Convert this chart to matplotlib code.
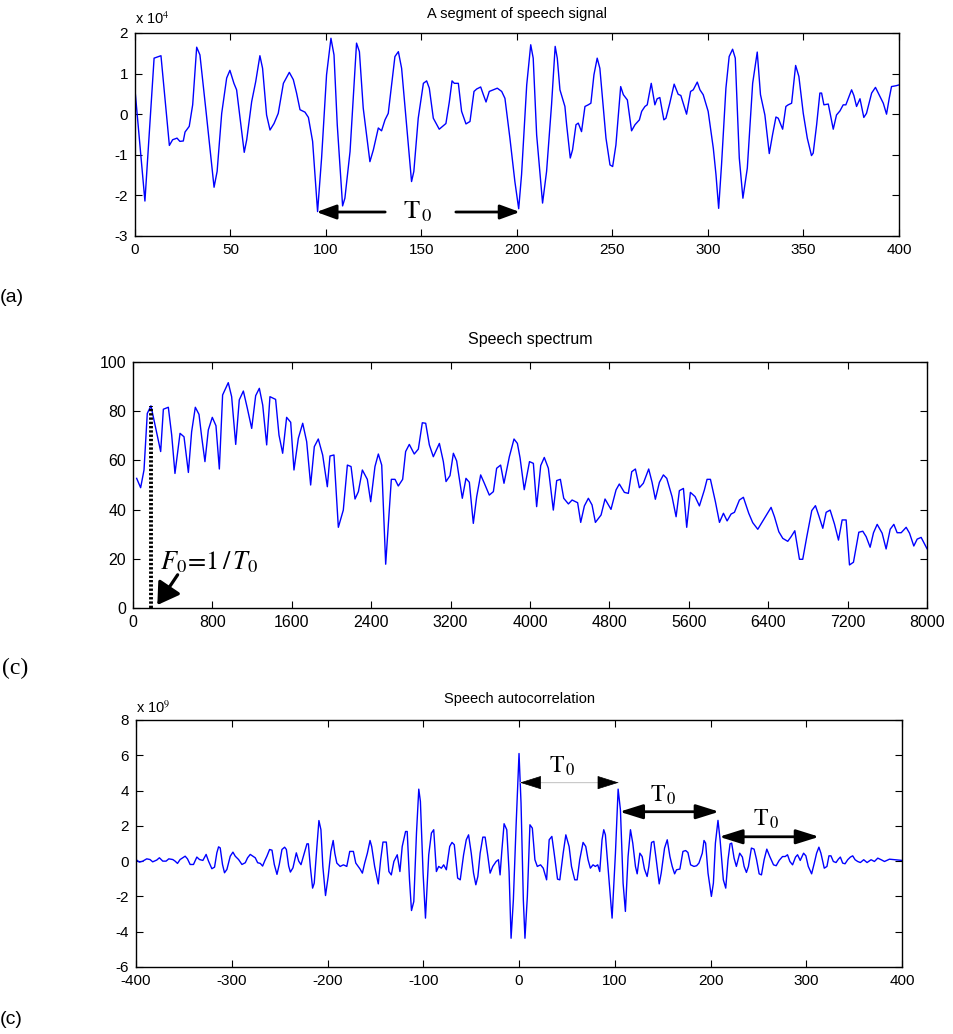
import matplotlib
matplotlib.use("Agg")
import matplotlib.pyplot as plt

# -----------------------------
# Data
# -----------------------------
# (a) speech signal, amplitude in units of 1e4
sig_x = [0, 5.2, 10.0, 13.6, 18.0, 19.7, 22.0, 23.5, 25.3, 26.2, 28.4, 30.2, 32.3, 34.0,
         37.2, 41.4, 43.0, 45.4, 48.0, 49.7, 51.8, 53.2, 57.2, 58.5, 61.1, 63.2, 65.4, 66.8,
         68.9, 70.7, 72.8, 75.0, 77.7, 80.8, 82.9, 84.6, 86.4, 89.0, 90.8, 93.0, 95.6, 97.7,
         100.3, 102.6, 104.2, 105.9, 108.7, 109.9, 112.6, 116.0, 117.5, 119.5, 123.0, 124.8,
         127.4, 129.1, 130.9, 132.6, 136.1, 137.9, 139.6, 142.2, 144.8, 146.0, 148.3, 151.0,
         152.7, 154.1, 156.2, 159.3, 162.8, 164.6, 166.0, 167.2, 169.3, 171.0, 173.3, 175.4,
         177.5, 178.9, 181.0, 182.4, 183.8, 185.5, 187.6, 189.7, 192.0, 193.7, 196.3, 198.9,
         200.9, 202.4, 205.1, 207.2, 208.5, 210.3, 213.4, 215.5, 218.1, 220.0, 221.1, 222.5,
         225.1, 226.0, 227.9, 229.1, 230.9, 232.1, 233.8, 235.6, 237.3, 238.7, 240.3, 242.0,
         243.4, 245.2, 246.6, 248.7, 250.1, 251.8, 254.3, 255.7, 257.8, 260.0, 261.8, 264.1,
         265.3, 267.0, 268.2, 270.3, 272.2, 273.4, 274.8, 276.9, 278.0, 280.0, 282.3, 284.4,
         285.8, 288.8, 290.9, 292.3, 294.4, 295.8, 297.5, 300.1, 302.8, 304.2, 305.6, 307.1,
         309.4, 311.1, 312.9, 314.3, 316.4, 318.3, 320.6, 323.4, 325.8, 327.5, 329.8, 332.1,
         333.8, 335.6, 336.8, 339.1, 340.8, 342.0, 343.8, 345.9, 347.6, 349.9, 352.0, 354.2,
         355.1, 356.9, 358.6, 359.5, 360.7, 363.0, 365.6, 367.3, 369.1, 370.8, 372.2, 375.2,
         376.4, 377.8, 379.6, 381.6, 383.0, 385.7, 387.7, 390.0, 391.8, 393.5, 394.9, 396.1,
         398.4, 400.0]
sig_y = [0.60, -2.14, 1.38, 1.44, -0.77, -0.63, -0.59, -0.67, -0.66, -0.44, -0.30, 0.23, 1.65, 1.46,
         0.07, -1.80, -1.41, 0.02, 0.89, 1.08, 0.76, 0.60, -0.94, -0.63, 0.31, 0.80, 1.44, 1.13,
         -0.02, -0.39, -0.23, 0.02, 0.76, 1.03, 0.85, 0.52, 0.11, 0.05, -0.08, -0.67, -2.40, -1.08,
         0.97, 1.87, 1.46, -0.26, -2.26, -2.07, -0.92, 1.75, 1.54, 0.15, -1.17, -0.88,
         -0.34, -0.41, -0.14, 0.02, 1.42, 1.54, 1.13, -0.26, -1.66, -1.41, -0.10, 0.76,
         0.82, 0.64, -0.10, -0.37, -0.23, 0.31, 0.82, 0.76, 0.76, 0.07, -0.24, -0.18,
         0.56, 0.62, 0.67, 0.48, 0.30, 0.56, 0.60, 0.64, 0.56, 0.39, -0.59, -1.66,
         -2.33, -1.49, 0.72, 1.71, 1.38, -0.51, -2.19, -1.41, 0.23, 1.67, 1.38, 0.60,
         0.19, -0.26, -1.08, -0.88, -0.26, -0.22, -0.43, 0.19, 0.23, 0.27, 0.97, 1.38,
         1.13, 0.15, -0.59, -1.25, -1.29, -0.76, 0.68, 0.48, 0.35, -0.41, -0.26, -0.14,
         0.07, 0.19, 0.23, 0.76, 0.23, 0.38, 0.41, -0.14, -0.10, 0.27, 0.74, 0.49,
         0.46, 0.00, 0.56, 0.60, 0.79, 0.60, 0.48, 0.07, -0.84, -1.49, -2.32, -1.25,
         0.64, 1.42, 1.60, 1.38, -1.08, -2.07, -1.33, 0.76, 1.53, 0.48, -0.02, -0.97,
         -0.51, -0.07, -0.10, -0.37, 0.19, 0.23, 0.27, 1.20, 0.93, 0.02, -0.59, -1.02,
         -0.96, -0.26, 0.52, 0.52, 0.23, 0.25, -0.37, -0.02, 0.08, 0.23, 0.23, 0.60,
         0.46, 0.19, 0.38, -0.08, 0.02, 0.52, 0.66, 0.44, 0.27, 0.00, 0.39, 0.68,
         0.70, 0.72]

# (c) speech spectrum, frequency in Hz, magnitude in dB
spec_f = [37, 77, 111, 144, 181, 215, 279, 306, 356, 390, 423, 474, 514, 558, 591, 628, 665,
          692, 725, 759, 799, 836, 870, 903, 960, 994, 1035, 1071, 1112, 1152, 1196, 1236,
          1273, 1307, 1347, 1380, 1437, 1471, 1508, 1548, 1589, 1622, 1666, 1710, 1750, 1790,
          1827, 1867, 1911, 1958, 1985, 2025, 2069, 2119, 2160, 2197, 2237, 2271, 2311, 2361,
          2395, 2438, 2472, 2506, 2546, 2603, 2640, 2673, 2717, 2747, 2784, 2834, 2875, 2915,
          2949, 2986, 3026, 3087, 3127, 3154, 3194, 3228, 3261, 3318, 3355, 3389, 3429, 3463,
          3503, 3540, 3590, 3631, 3664, 3704, 3738, 3792, 3839, 3873, 3900, 3942, 3995, 4034,
          4067, 4108, 4144, 4185, 4235, 4269, 4306, 4340, 4387, 4424, 4480, 4511, 4548, 4588,
          4625, 4659, 4716, 4756, 4816, 4867, 4900, 4951, 4991, 5025, 5062, 5102, 5142, 5196,
          5230, 5263, 5304, 5344, 5378, 5431, 5472, 5505, 5546, 5579, 5616, 5663, 5707, 5757,
          5784, 5818, 5868, 5909, 5949, 5986, 6026, 6060, 6110, 6150, 6204, 6244, 6295, 6355,
          6429, 6463, 6507, 6547, 6597, 6631, 6668, 6715, 6748, 6789, 6839, 6876, 6910, 6950,
          6984, 7024, 7068, 7108, 7145, 7185, 7219, 7259, 7313, 7353, 7387, 7427, 7461, 7498,
          7548, 7588, 7629, 7666, 7699, 7740, 7790, 7824, 7867, 7901, 7941, 8000]
spec_db = [52.7, 48.9, 56.1, 79.1, 82.2, 75.7, 63.6, 80.8, 81.6, 70.3, 54.7, 71.0, 69.6, 55.1,
           71.7, 81.6, 78.7, 69.6, 59.5, 72.4, 77.5, 74.1, 56.5, 86.6, 91.6, 85.9, 66.5, 84.6,
           88.2, 81.2, 73.0, 86.3, 89.3, 82.5, 66.3, 85.9, 84.8, 70.3, 62.9, 77.5, 75.5, 56.1,
           69.0, 75.1, 67.6, 50.0, 65.6, 68.7, 62.2, 49.3, 61.8, 62.2, 32.8, 39.8, 58.1, 57.5,
           44.3, 47.3, 56.1, 52.3, 43.2, 57.5, 62.6, 58.1, 17.8, 52.3, 52.3, 49.6, 52.3, 63.6,
           66.5, 62.6, 64.6, 75.3, 75.1, 66.3, 61.5, 66.9, 59.5, 51.4, 53.8, 62.9, 59.8, 44.6,
           52.7, 51.1, 34.4, 45.3, 54.1, 50.7, 45.9, 47.3, 56.8, 58.1, 50.7, 61.5, 68.7, 66.9,
           61.0, 48.1, 59.5, 58.8, 41.2, 57.9, 61.2, 56.8, 39.8, 51.8, 52.3, 44.6, 42.3, 43.9,
           42.8, 34.8, 41.5, 44.6, 41.9, 34.8, 37.8, 44.3, 40.1, 48.0, 50.4, 47.0, 46.6, 55.4,
           56.5, 48.9, 50.7, 56.5, 51.1, 44.2, 51.1, 54.1, 52.7, 45.3, 37.1, 47.7, 48.6, 32.8,
           47.0, 45.3, 41.5, 48.0, 52.3, 52.3, 43.2, 34.8, 38.5, 35.4, 38.2, 38.9, 43.9, 45.0,
           38.5, 34.7, 32.0, 36.0, 40.9, 37.1, 31.0, 28.3, 27.1, 29.0, 31.4, 19.8, 19.8, 29.0,
           39.6, 41.6, 37.5, 32.4, 38.9, 39.8, 34.1, 27.6, 35.8, 35.8, 17.5, 18.6, 30.8, 31.2,
           29.0, 24.7, 30.6, 34.0, 30.4, 24.0, 32.0, 34.0, 30.6, 30.6, 32.8, 30.4, 25.2, 28.0,
           28.7, 24.1]

# (c) autocorrelation, lag in samples, value in units of 1e9
ac_lag = [-400, -396.5, -393, -388.8, -385.4, -382.6, -378.4, -375.6, -372.1, -368.6, -365.8,
          -361.6, -359.2, -356.7, -354, -348.7, -346.3, -343.5, -340, -336.5, -333.7, -330.2,
          -326.8, -324.3, -320.8, -318, -315.6, -313.8, -312.1, -309.7, -307.6, -305.1, -301.6,
          -298.8, -296.4, -292.9, -289.4, -285.9, -283.5, -280.7, -277.9, -275.5, -273, -270.2,
          -267.8, -265.7, -263.3, -260.5, -258, -255.6, -252.8, -250.4, -247.6, -244.8, -243,
          -240.6, -238.8, -236.1, -232.6, -230.1, -227.7, -224.3, -221.5, -220, -218, -215.6,
          -213.9, -211.1, -209, -206.9, -204.9, -202.1, -199.3, -196.5, -194.1, -192.4, -190.3,
          -186.8, -183.4, -179.9, -176.8, -173, -170.5, -166, -163.6, -161.2, -158.4, -155.6,
          -153.9, -150.8, -147, -144.5, -142.1, -138.6, -135.9, -133.4, -130.7, -127.2, -124.4,
          -122, -118.5, -116.8, -114.4, -112.3, -109.9, -107.1, -104.7, -103, -100.2, -97.7,
          -94.3, -91.5, -89.1, -86.3, -83.9, -81.1, -78.7, -75.9, -72.4, -70, -67.6, -64.1,
          -61.4, -57.9, -55.1, -52.7, -49.9, -47.5, -45.1, -43, -40.6, -37.8, -35.4, -32.6,
          -30.2, -27.4, -23.9, -21.5, -19.8, -18, -15.6, -12.8, -10.4, -8.3, -5.9, -3.1, 0,
          2.1, 4.5, 6.2, 8.7, 11.4, 13.9, 16.6, 19.1, 22.5, 25.3, 28.8, 31.5, 34.3, 36.7, 40.2,
          42.6, 46.1, 48.9, 52.3, 54.8, 58.2, 60.7, 63.4, 66.9, 69.7, 72.1, 74.5, 77.3, 79.7,
          82.2, 84.3, 86.7, 88.5, 90.2, 93.7, 97.2, 100.7, 103.5, 105.9, 108.7, 111.1, 113.9,
          116.4, 118.8, 121.6, 123.4, 126.2, 128.6, 131, 133.8, 135.6, 138.4, 140.8, 143.3,
          146.4, 148.5, 152, 154.8, 157.6, 160, 162.5, 164.5, 168, 171.2, 174, 176.4, 179.2,
          182.7, 185.5, 187.9, 191.4, 193.2, 194.9, 197.4, 200.9, 203, 205.1, 207.8, 210,
          213.4, 215.9, 218.3, 220.4, 222.1, 224.6, 227, 230.5, 233.3, 235.1, 237.5, 239.6,
          242.7, 245.5, 248, 250.8, 253.2, 256, 258.8, 261.9, 265.8, 268.6, 271.7, 275.2, 278,
          280.4, 282.9, 285.7, 288.8, 290.9, 293.7, 297.2, 299.6, 302.1, 305.6, 308.4, 310.8,
          313.2, 315.3, 318.8, 321.6, 323.7, 325.8, 328.3, 331.1, 333.5, 335.6, 338, 340.5,
          343.3, 346.1, 348.5, 351, 353.7, 356.5, 360, 363.5, 367.7, 371.2, 374.7, 378.2,
          381.7, 386.9, 392.1, 400]
ac_val = [0.09, -0.06, 0.00, 0.13, 0.09, -0.04, 0.06, 0.19, 0.00, 0.00, 0.13,
          0.09, 0.00, -0.13, 0.09, 0.28, 0.13, -0.19, -0.19, 0.23, 0.09, 0.04,
          0.38, 0.00, -0.43, -0.34, 0.47, 0.81, 0.75, -0.19, -0.66, -0.47, 0.28,
          0.51, 0.28, 0.09, -0.19, -0.09, 0.19, 0.38, 0.28, 0.19, -0.09, -0.13,
          -0.28, 0.00, 0.28, 0.66, 0.62, -0.19, -0.75, -0.19, 0.66, 0.79, 0.66,
          -0.28, -0.62, -0.38, 0.47, 0.00, -0.20, 0.45, 0.98, 0.98, -0.30, -1.53,
          -1.25, 0.83, 2.30, 1.78, -0.30, -1.95, -0.87, 0.55, 1.17, 0.45, -0.11,
          -0.30, -0.21, -0.30, 0.55, 0.55, -0.11, -0.45, -0.68, -0.11, 0.45, 1.17,
          0.83, -0.30, -1.29, 0.08, 1.08, 1.08, -0.59, -0.78, -0.02, 0.36, -0.59,
          0.83, 1.68, 1.68, -1.06, -2.80, -2.29, 1.59, 4.08, 3.38, -0.68, -3.23,
          0.36, 1.59, 1.78, -0.59, -0.30, -0.40, -0.21, -0.49, 0.83, 1.06, 0.93, -0.96,
          -1.06, 0.36, 1.21, 1.49, 0.45, -0.68, -1.34, -0.87, 0.45, 1.36, 1.36, 0.30,
          -0.68, -0.30, -0.02, 0.08, -0.78, 0.55, 2.12, 1.78, -0.59, -4.37, -2.19, 1.97, 6.10,
          3.29, -2.19, -4.37, -2.00, 2.06, 1.87, 0.08, -0.30, -0.21, -0.40, -1.06, 1.21, 1.40, 0.45, -1.02,
          -1.06, 0.45, 1.49, 0.83, -0.30, -1.06, -1.06, 0.08, 1.06, 0.83, 0.08, -0.40, -0.21, -0.30,
          -0.21, -0.59, 1.21, 1.78, 1.49, -0.87, -3.23, 0.45, 4.08, 2.91, -1.25, -2.85, 0.26,
          1.78, 1.02, -0.30, -0.72, 0.45, 0.26, -0.45, -0.87, -0.30, 1.06, 1.12, 0.08,
          -1.29, -0.68, 0.74, 1.21, 0.26, -0.30, -0.72, -0.49, -0.45, 0.55, 0.60, 0.49, -0.21,
          -0.30, -0.26, -0.11, 0.45, 1.17, 1.02, -0.68, -2.00, -1.25, 1.02, 2.31, 1.21,
          -1.06, -1.53, 0.08, 0.98, 1.02, 0.17, -0.30, 0.45, 0.23, -0.30, -0.64, -0.30,
          0.74, 0.68, 0.11, -0.72, -0.78, 0.08, 0.68, 0.26, -0.21, -0.26, 0.04, 0.26, 0.26,
          0.36, -0.02, -0.21, 0.23, 0.36, 0.04, 0.45, 0.30, -0.30, -0.72, -0.11, 0.45,
          0.79, 0.45, -0.40, -0.30, 0.30, 0.30, -0.02, -0.08, 0.11, 0.23, -0.11, -0.15,
          0.08, 0.23, 0.30, 0.08, -0.02, -0.08, 0.08, -0.08, 0.08, -0.02, 0.17, 0.08,
          -0.02, 0.11, 0.08, 0.04]

sig_xticks = list(range(0, 401, 50))
sig_yticks = [-3, -2, -1, 0, 1, 2]
spec_xticks = list(range(0, 8001, 800))
spec_yticks = list(range(0, 101, 20))
ac_xticks = list(range(-400, 401, 100))
ac_yticks = list(range(-6, 9, 2))

# -----------------------------
# Styling
# -----------------------------
plt.rcParams["font.family"] = ["Liberation Sans", "DejaVu Sans"]
plt.rcParams["mathtext.fontset"] = "stix"
plt.rcParams["axes.unicode_minus"] = False
BLUE = "#0000ff"
TICK_FS = 11


def matlab_axes(ax):
    ax.tick_params(direction="in", top=True, right=True, length=5, width=0.8,
                   labelsize=TICK_FS, pad=5)
    for s in ax.spines.values():
        s.set_linewidth(1.0)


fig = plt.figure(figsize=(9.54, 10.34), dpi=100)

# -----------------------------
# 1. Speech signal
# -----------------------------
ax1 = fig.add_axes([0.1415, 0.7718, 0.8008, 0.1963])
ax1.plot(sig_x, sig_y, color=BLUE, lw=1.0)
ax1.set_xlim(0, 400)
ax1.set_ylim(-3, 2)
ax1.set_xticks(sig_xticks)
ax1.set_yticks(sig_yticks)
matlab_axes(ax1)
ax1.set_title("A segment of speech signal", fontsize=10.5, pad=11)
ax1.text(0.0, 1.03, r"x 10$^{4}$", transform=ax1.transAxes, fontsize=10.5,
         va="bottom", ha="left")
head = dict(arrowstyle="-|>,head_length=0.6,head_width=0.22", color="black",
            lw=2.0, mutation_scale=20, shrinkA=0, shrinkB=0)
ax1.annotate("", xy=(95, -2.41), xytext=(131, -2.41), arrowprops=head)
ax1.annotate("", xy=(201.5, -2.41), xytext=(168, -2.41), arrowprops=head)
ax1.text(148, -2.41, r"$\mathrm{T}_{\,0}$", fontsize=19, ha="center", va="center")

# -----------------------------
# 2. Speech spectrum
# -----------------------------
ax2 = fig.add_axes([0.1394, 0.4120, 0.8323, 0.2379])
ax2.plot(spec_f, spec_db, color=BLUE, lw=1.0)
ax2.set_xlim(0, 8000)
ax2.set_ylim(0, 100)
ax2.set_xticks(spec_xticks)
ax2.set_yticks(spec_yticks)
matlab_axes(ax2)
ax2.tick_params(labelsize=11.5)
ax2.set_title("Speech spectrum", fontsize=11.5, pad=13)
f0_idx = spec_db.index(max(spec_db[:6]))
ax2.vlines(spec_f[f0_idx], 0, spec_db[f0_idx], colors="black",
           linestyles=(0, (0.6, 0.5)), lw=2.8)
ax2.annotate("", xy=(245, 1.2), xytext=(450, 13.5),
             arrowprops=dict(arrowstyle="-|>,head_length=0.65,head_width=0.4",
                             color="black", lw=2.3, mutation_scale=20,
                             shrinkA=0, shrinkB=0))
ax2.text(270, 18.5, r"$F_0\!=\!1\,/\,T_0$", fontsize=19, ha="left", va="center")

# -----------------------------
# 3. Speech autocorrelation
# -----------------------------
ax3 = fig.add_axes([0.1426, 0.0648, 0.8029, 0.2389])
ax3.plot(ac_lag, ac_val, color=BLUE, lw=1.0)
ax3.set_xlim(-400, 400)
ax3.set_ylim(-6, 8)
ax3.set_xticks(ac_xticks)
ax3.set_yticks(ac_yticks)
matlab_axes(ax3)
ax3.set_title("Speech autocorrelation", fontsize=10.5, pad=12)
ax3.text(0.0, 1.015, r"x 10$^{9}$", transform=ax3.transAxes, fontsize=10.5,
         va="bottom", ha="left")

head2 = dict(arrowstyle="<|-|>,head_length=0.7,head_width=0.22", color="black",
             lw=2.0, mutation_scale=20, shrinkA=0, shrinkB=0)
# first period: light line with black heads
ax3.annotate("", xy=(1, 4.45), xytext=(104, 4.45),
             arrowprops=dict(arrowstyle="-", color="#c8c8c8", lw=0.8,
                             shrinkA=0, shrinkB=0))
ax3.annotate("", xy=(1, 4.45), xytext=(16, 4.45),
             arrowprops=dict(arrowstyle="-|>,head_length=0.7,head_width=0.22",
                             color="black", lw=0.5, mutation_scale=20,
                             shrinkA=0, shrinkB=0))
ax3.annotate("", xy=(104, 4.45), xytext=(89, 4.45),
             arrowprops=dict(arrowstyle="-|>,head_length=0.7,head_width=0.22",
                             color="black", lw=0.5, mutation_scale=20,
                             shrinkA=0, shrinkB=0))
ax3.annotate("", xy=(105, 2.8), xytext=(209, 2.8), arrowprops=head2)
ax3.annotate("", xy=(209, 1.38), xytext=(313.5, 1.38), arrowprops=head2)
ax3.text(45, 5.35, r"$\mathrm{T}_{\,0}$", fontsize=17, ha="center", va="center")
ax3.text(151, 3.75, r"$\mathrm{T}_{\,0}$", fontsize=17, ha="center", va="center")
ax3.text(258, 2.35, r"$\mathrm{T}_{\,0}$", fontsize=17, ha="center", va="center")

# -----------------------------
# Panel labels
# -----------------------------
fig.text(0.0, 1 - 297 / 1034, "(a)", fontsize=14, ha="left", va="center")
fig.text(0.002, 1 - 668 / 1034, "(c)", fontsize=17, ha="left", va="center",
         family=["Liberation Serif", "DejaVu Serif"])
fig.text(0.0, 1 - 1019 / 1034, "(c)", fontsize=14, ha="left", va="center")

fig.savefig("out.png", dpi=100)
plt.close(fig)
